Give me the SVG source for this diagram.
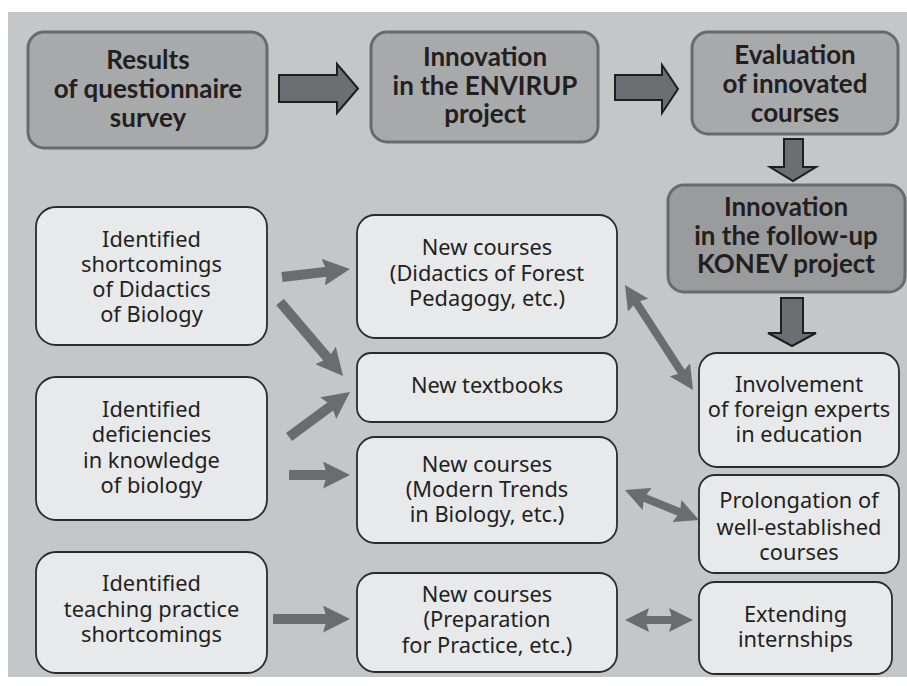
<svg xmlns="http://www.w3.org/2000/svg" width="907" height="686" viewBox="0 0 907 686">
<style>
.bg{fill:#c5c6c8}
.top{fill:#a8a9ab;stroke:#6a6a6b;stroke-width:3}
.dark{fill:#9a9b9d;stroke:#6a6a6b;stroke-width:3}
.lt{fill:#e8e9eb;stroke:#2b2b2b;stroke-width:1.8}
.bt{font-family:Lato,"Noto Sans",sans-serif;font-weight:bold;font-size:26px;fill:#231f20;text-anchor:middle}
.rt{font-family:"Noto Sans","Open Sans",sans-serif;font-size:21.8px;fill:#231f20;text-anchor:middle}
.blk{fill:#6d6e71;stroke:#1e1e1e;stroke-width:2;stroke-linejoin:miter}
.con{stroke:#6b6c6e;fill:none}
.uni{stroke-width:10;marker-end:url(#ah)}
.bi{stroke-width:8;marker-start:url(#ah2);marker-end:url(#ah2)}
</style>
<defs>
<marker id="ah" viewBox="0 0 10 10" refX="5" refY="5" markerWidth="2.7" markerHeight="2.7" orient="auto">
<path d="M0,0 L10,5 L0,10 L1.5,5 z" fill="#6b6c6e"/>
</marker>
<marker id="ah2" viewBox="0 0 10 10" refX="5" refY="5" markerWidth="3" markerHeight="3" orient="auto-start-reverse">
<path d="M0,0 L10,5 L0,10 L1.5,5 z" fill="#6b6c6e"/>
</marker>
</defs>
<rect class="bg" x="8" y="12" width="899" height="665"/>

<g id="results">
<rect class="top" x="28" y="32" width="239" height="116" rx="16"/>
<text class="bt" x="148" y="69">Results</text>
<text class="bt" x="148" y="98">of questionnaire</text>
<text class="bt" x="148" y="127">survey</text>
</g>
<g id="envirup">
<rect class="top" x="371" y="32" width="227" height="110" rx="16"/>
<text class="bt" x="485" y="66">Innovation</text>
<text class="bt" x="485" y="95">in the ENVIRUP</text>
<text class="bt" x="485" y="123">project</text>
</g>
<g id="evaluation">
<rect class="top" x="692" y="32" width="206" height="102" rx="16"/>
<text class="bt" x="795" y="64">Evaluation</text>
<text class="bt" x="795" y="93">of innovated</text>
<text class="bt" x="795" y="122">courses</text>
</g>
<g id="konev">
<rect class="dark" x="668" y="185" width="237" height="107" rx="16"/>
<text class="bt" x="786" y="216">Innovation</text>
<text class="bt" x="786" y="245">in the follow-up</text>
<text class="bt" x="786" y="273">KONEV project</text>
</g>

<g id="shortcomings">
<rect class="lt" x="36" y="207" width="231" height="138" rx="20"/>
<text class="rt" x="151.5" y="247">Identified</text>
<text class="rt" x="151.5" y="272">shortcomings</text>
<text class="rt" x="151.5" y="297">of Didactics</text>
<text class="rt" x="151.5" y="322">of Biology</text>
</g>
<g id="deficiencies">
<rect class="lt" x="36" y="377" width="231" height="143" rx="20"/>
<text class="rt" x="151.5" y="417">Identified</text>
<text class="rt" x="151.5" y="442">deficiencies</text>
<text class="rt" x="151.5" y="468">in knowledge</text>
<text class="rt" x="151.5" y="493">of biology</text>
</g>
<g id="teaching">
<rect class="lt" x="36" y="552" width="231" height="121" rx="20"/>
<text class="rt" x="151.5" y="591">Identified</text>
<text class="rt" x="151.5" y="617">teaching practice</text>
<text class="rt" x="151.5" y="642">shortcomings</text>
</g>

<g id="didactics">
<rect class="lt" x="357" y="215" width="260" height="123" rx="18"/>
<text class="rt" x="487" y="255">New courses</text>
<text class="rt" x="487" y="281">(Didactics of Forest</text>
<text class="rt" x="487" y="306">Pedagogy, etc.)</text>
</g>
<g id="textbooks">
<rect class="lt" x="357" y="353" width="260" height="69" rx="14"/>
<text class="rt" x="487" y="393">New textbooks</text>
</g>
<g id="modern">
<rect class="lt" x="357" y="437" width="260" height="106" rx="18"/>
<text class="rt" x="487" y="472">New courses</text>
<text class="rt" x="487" y="497">(Modern Trends</text>
<text class="rt" x="487" y="522">in Biology, etc.)</text>
</g>
<g id="preparation">
<rect class="lt" x="357" y="573" width="260" height="99" rx="18"/>
<text class="rt" x="487" y="602">New courses</text>
<text class="rt" x="487" y="627">(Preparation</text>
<text class="rt" x="487" y="653">for Practice, etc.)</text>
</g>

<g id="involvement">
<rect class="lt" x="699" y="353" width="200" height="114" rx="18"/>
<text class="rt" x="799" y="392">Involvement</text>
<text class="rt" x="799" y="417">of foreign experts</text>
<text class="rt" x="799" y="442">in education</text>
</g>
<g id="prolongation">
<rect class="lt" x="699" y="475" width="200" height="98" rx="16"/>
<text class="rt" x="799" y="508">Prolongation of</text>
<text class="rt" x="799" y="535">well-established</text>
<text class="rt" x="799" y="560">courses</text>
</g>
<g id="extending">
<rect class="lt" x="699" y="582" width="193" height="92" rx="16"/>
<text class="rt" x="795.5" y="622">Extending</text>
<text class="rt" x="795.5" y="647">internships</text>
</g>

<g id="connectors">
<polygon class="blk" points="279,75 337,75 337,64 358,88.5 337,113 337,102 279,102"/>
<polygon class="blk" points="615,75 662,75 662,65 678,89 662,113 662,100 615,100"/>
<polygon class="blk" points="784,139 803,139 803,167 816,167 793,181 770,167 784,167"/>
<polygon class="blk" points="781,298 803,298 803,333 816,333 792,346 768,333 781,333"/>
<line class="con uni" x1="282" y1="277" x2="336.6" y2="270.6"/>
<line class="con uni" x1="280" y1="302" x2="334.3" y2="365.7"/>
<line class="con uni" x1="289" y1="437" x2="339.1" y2="400"/>
<line class="con uni" x1="289" y1="475" x2="336.5" y2="475"/>
<line class="con uni" x1="273" y1="619" x2="336.5" y2="619"/>
<line class="con bi" x1="631.5" y1="295.1" x2="686.5" y2="379.9"/>
<line class="con bi" x1="636.1" y1="494.5" x2="687.9" y2="515.5"/>
<line class="con bi" x1="637" y1="620" x2="681" y2="620"/>
</g>
</svg>
